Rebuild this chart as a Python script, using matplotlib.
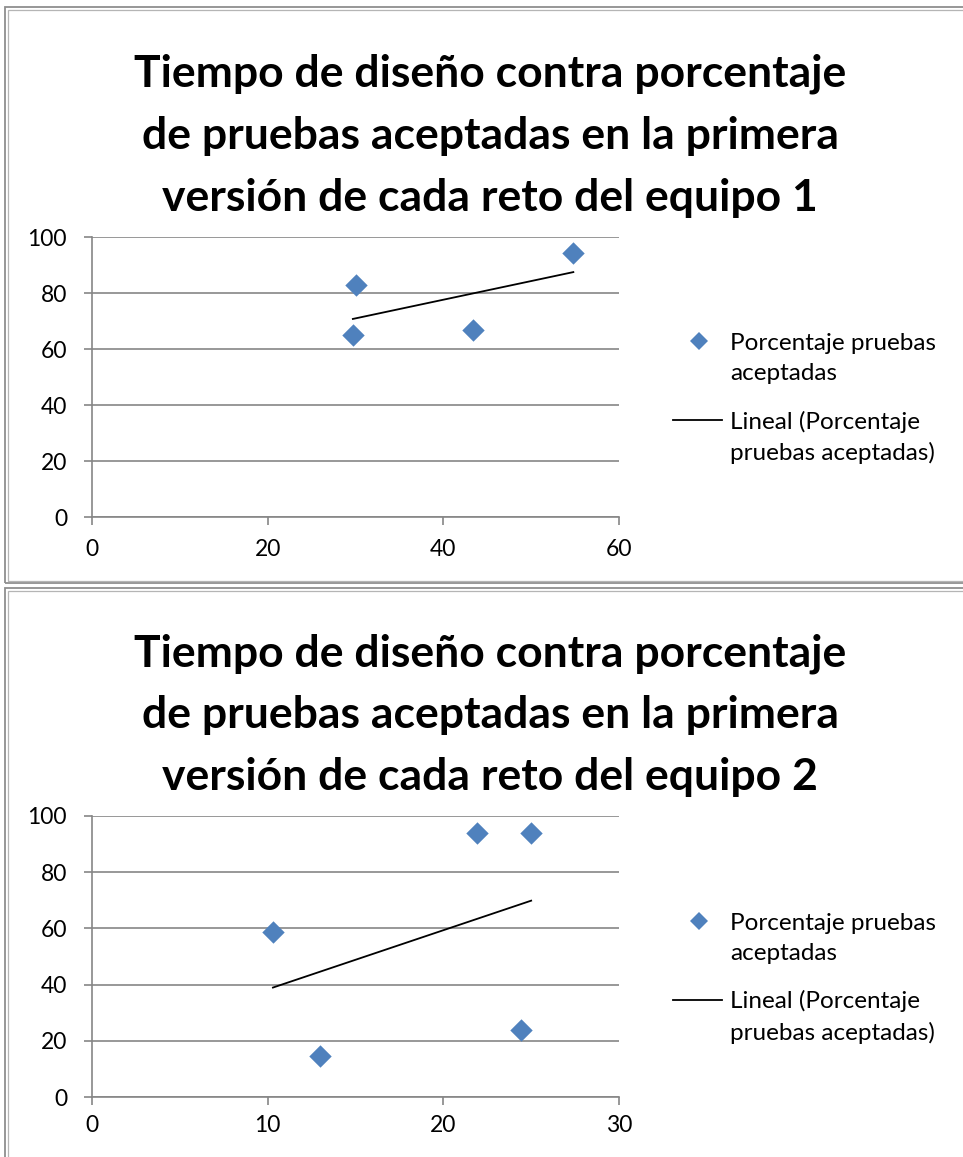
import numpy as np
import matplotlib.pyplot as plt
from matplotlib.lines import Line2D
from matplotlib.patches import Rectangle

# Equipo 1: tiempo de diseño (x) y porcentaje de pruebas aceptadas (y)
tiempo_eq1 = [29.7, 30.0, 43.4, 54.8]
porcentaje_eq1 = [64.9, 82.8, 66.9, 94.4]

# Equipo 2
tiempo_eq2 = [10.3, 13.0, 21.9, 25.0, 24.4]
porcentaje_eq2 = [58.8, 14.6, 94.1, 94.1, 23.8]

titulo_lineas = [
    "Tiempo de diseño contra porcentaje",
    "de pruebas aceptadas en la primera",
    "versión de cada reto del equipo {}",
]
xticks_eq1 = [0, 20, 40, 60]
xticks_eq2 = [0, 10, 20, 30]
yticks = [0, 20, 40, 60, 80, 100]

serie_label = ["Porcentaje pruebas", "aceptadas"]
trend_label = ["Lineal (Porcentaje", "pruebas aceptadas)"]

BLUE = "#4F81BD"
GRID = "#868686"
FONT = "Lato"

W, H = 963, 1157
fig = plt.figure(figsize=(W / 100, H / 100), dpi=100)


def fx(x):
    return x / W


def fy(y):
    return 1 - y / H


def px(x0, y0, x1, y1):
    # pixel box -> figure fraction [left, bottom, width, height]
    return [x0 / W, 1 - y1 / H, (x1 - x0) / W, (y1 - y0) / H]


def frame(y0, y1):
    # double grey border around each chart
    for off, lw, col in ((0, 1.3, "#8f8f8f"), (2.5, 0.9, "#b5b5b5")):
        fig.patches.append(Rectangle((fx(5 + off), fy(y1 - off)), (975 - 5) / W,
                                     (y1 - y0 - 2 * off) / H,
                                     transform=fig.transFigure, fill=False,
                                     edgecolor=col, lw=lw))


def legend(yc):
    # keys aligned with the first line of each label
    fig.add_artist(Line2D([fx(699)], [fy(yc - 36)], marker="D", color=BLUE,
                          ls="none", markersize=9.5, markeredgewidth=0,
                          transform=fig.transFigure))
    fig.add_artist(Line2D([fx(673), fx(722)], [fy(yc + 43)] * 2, color="black",
                          lw=1.3, transform=fig.transFigure))
    offs = [-27, 3, 52, 83]
    for off, txt in zip(offs, serie_label + trend_label):
        fig.text(fx(730), fy(yc + off), txt, va="baseline", ha="left",
                 family=FONT, fontsize=17.5)


def draw(top, bottom, xs, ys, xticks, xmax, equipo, xpad):
    ax = fig.add_axes(px(92, top, 619, bottom))
    ax.scatter(xs, ys, marker="D", s=130, color=BLUE, zorder=3, linewidths=0)
    slope, inter = np.polyfit(xs, ys, 1)
    xr = np.array([min(xs), max(xs)])
    ax.plot(xr, slope * xr + inter, color="black", lw=1.3, zorder=2)

    ax.set_xlim(0, xmax)
    ax.set_ylim(0, 100)
    ax.set_xticks(xticks)
    ax.set_yticks(yticks)
    ax.grid(axis="y", color=GRID, lw=1.2)
    ax.set_axisbelow(True)
    for s in ("top", "right"):
        ax.spines[s].set_visible(False)
    for s in ("left", "bottom"):
        ax.spines[s].set_color(GRID)
        ax.spines[s].set_linewidth(1.2)
    ax.tick_params(colors=GRID, labelcolor="black", length=6, width=1.2,
                   labelsize=16.5)
    ax.tick_params(axis="y", pad=12)
    ax.tick_params(axis="x", pad=xpad)
    for lab in ax.get_xticklabels() + ax.get_yticklabels():
        lab.set_family(FONT)

    legend((top + bottom) / 2)

    base = top - 150
    for i, linea in enumerate(titulo_lineas):
        fig.text(fx(490), fy(base + 62 * i), linea.format(equipo), ha="center",
                 va="baseline", family=FONT, fontweight="bold", fontsize=32)


frame(7, 583)
frame(588, 1170)

draw(237, 517, tiempo_eq1, porcentaje_eq1, xticks_eq1, 60, 1, 10)
draw(816, 1097, tiempo_eq2, porcentaje_eq2, xticks_eq2, 30, 2, 7)

fig.savefig("out.png", dpi=100)
